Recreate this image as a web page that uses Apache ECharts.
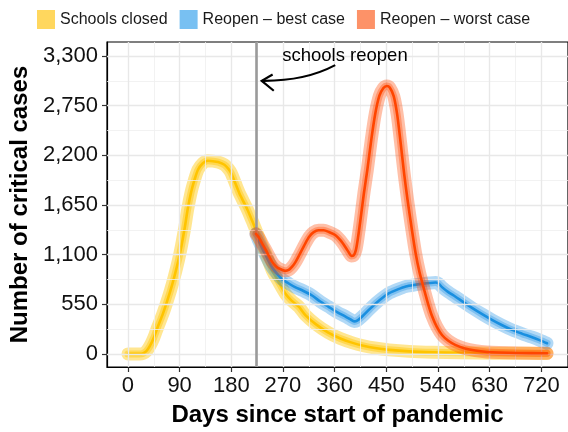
<!DOCTYPE html>
<html><head><meta charset="utf-8">
<script src="https://cdn.jsdelivr.net/npm/echarts@6/dist/echarts.min.js"></script>
<style>html,body{margin:0;padding:0;background:#fff}#c{width:568px;height:432px}</style>
</head><body><div id="c"></div>
<script>
// ---- data ----
const seriesNames = ['Schools closed', 'Reopen – best case', 'Reopen – worst case'];

const closedDays = [0, 10, 20, 26, 32, 38, 45, 52, 60, 67, 74, 81, 88, 93, 99, 104, 110, 116, 122, 130, 139, 148, 157, 168, 175, 180, 187, 194, 201, 208, 216, 223, 231, 240, 251, 263, 275, 285, 298, 309, 327, 349, 370, 390, 410, 430, 455, 490, 530, 580, 640, 700, 730];
const closedVals = [0, 0, 0, 5, 30, 85, 180, 300, 430, 560, 700, 860, 1040, 1190, 1400, 1600, 1790, 1930, 2040, 2110, 2140, 2135, 2125, 2095, 2050, 2000, 1890, 1780, 1690, 1600, 1480, 1370, 1240, 1110, 930, 790, 660, 590, 520, 430, 330, 235, 170, 125, 90, 65, 45, 28, 18, 12, 8, 6, 5];

const bestDays = [223, 228, 240, 251, 258, 268, 280, 291, 305, 320, 335, 349, 365, 379, 387, 394, 400, 408, 420, 432, 443, 455, 470, 484, 500, 513, 525, 536, 541, 547, 558, 570, 585, 600, 617, 634, 651, 669, 686, 704, 718, 730];
const bestVals = [1330, 1250, 1090, 960, 900, 830, 780, 740, 700, 650, 580, 524, 460, 414, 385, 360, 372, 414, 490, 562, 620, 673, 715, 747, 765, 776, 785, 791, 780, 740, 685, 636, 570, 507, 440, 377, 320, 266, 225, 185, 150, 118];

const worstDays = [223, 228, 234, 240, 251, 258, 265, 274, 280, 286, 292, 298, 309, 316, 323, 332, 341, 350, 361, 370, 378, 385, 389, 393, 397, 401, 405, 411, 417, 424, 431, 438, 445, 451, 456, 463, 469, 475, 481, 487, 494, 501, 508, 516, 523, 530, 538, 547, 558, 570, 587, 605, 625, 646, 680, 730];
const worstVals = [1330, 1290, 1220, 1151, 1022, 968, 940, 920, 930, 966, 1020, 1090, 1225, 1300, 1347, 1370, 1370, 1350, 1317, 1260, 1190, 1120, 1085, 1090, 1150, 1300, 1486, 1780, 2040, 2380, 2668, 2860, 2945, 2968, 2950, 2853, 2650, 2336, 2000, 1708, 1400, 1117, 900, 710, 550, 414, 300, 210, 145, 100, 60, 37, 22, 15, 10, 7];

const xTicks = [0, 90, 180, 270, 360, 450, 540, 630, 720];
const xMinor = [45, 135, 225, 315, 405, 495, 585, 675];
const yTicks = [0, 550, 1100, 1650, 2200, 2750, 3300];
const yMinor = [275, 825, 1375, 1925, 2475, 3025];
const yTickLabels = ['0', '550', '1,100', '1,650', '2,200', '2,750', '3,300'];

const reopenDay = 223;
const annotationText = 'schools reopen';
const annoTextAt = [378, 3305];
const arrowStart = [361, 3199];
const arrowCtrl = [308, 3020];
const arrowTip = [233, 3025];
const arrowArm1 = [252, 3095];
const arrowArm2 = [254, 2915];

// ---- styles ----
const FONT = "'Liberation Sans', Arial, Helvetica, sans-serif";
const styles = [
  { band: 'rgba(255,196,0,0.43)', line: '#FFC400', key: '#FFD75E' },
  { band: 'rgba(30,145,228,0.34)', line: '#1A8FE0', key: '#78C0F2' },
  { band: 'rgba(255,69,0,0.34)', line: '#FF4500', key: '#FD9268' }
];
const sets = [[closedDays, closedVals], [bestDays, bestVals], [worstDays, worstVals]];
function zip(d, v) { return d.map((x, i) => [x, v[i]]); }

const series = [];
const gl = (v, axis, w, c) => ({ [axis]: v, lineStyle: { width: w, color: c, type: 'solid' } });
series.push({
  type: 'line', data: [], silent: true, z: 1,
  markLine: {
    silent: true, symbol: ['none', 'none'], label: { show: false }, animation: false,
    data: [].concat(
      yMinor.map(v => gl(v, 'yAxis', 0.8, '#EFEFEF')),
      xMinor.map(v => gl(v, 'xAxis', 0.8, '#EFEFEF')),
      yTicks.map(v => gl(v, 'yAxis', 1.4, '#E8E8E8')),
      xTicks.map(v => gl(v, 'xAxis', 1.4, '#E8E8E8'))
    )
  }
});
series.push({
  type: 'line', data: [], silent: true, z: 2,
  markLine: {
    silent: true, symbol: ['none', 'none'], label: { show: false }, animation: false,
    data: [{ xAxis: reopenDay, lineStyle: { width: 2.6, color: '#9A9A9A', type: 'solid' } }]
  }
});

sets.forEach((s, i) => {
  const data = zip(s[0], s[1]);
  const st = styles[i];
  const common = {
    type: 'line', name: seriesNames[i], data, showSymbol: false, symbol: 'none',
    smooth: 0.25, silent: true,
    itemStyle: { color: st.key }, z: 3 + i
  };
  series.push(Object.assign({}, common, { lineStyle: { color: st.band, width: 13, cap: 'round', join: 'round' } }));
  series.push(Object.assign({}, common, { lineStyle: { color: st.band, width: 7, cap: 'round', join: 'round' } }));
  series.push(Object.assign({}, common, { lineStyle: { color: st.line, width: 2.6, cap: 'round', join: 'round' } }));
});

const chart = echarts.init(document.getElementById('c'), null, { renderer: 'canvas' });
const option = {
  animation: false,
  backgroundColor: '#fff',
  legend: {
    data: seriesNames,
    left: 32, top: 5,
    icon: 'rect', itemWidth: 18, itemHeight: 19, itemGap: 12,
    textStyle: { fontFamily: FONT, fontSize: 16, color: '#1a1a1a' },
    selectedMode: false
  },
  grid: {
    left: 107, top: 42, right: -3, bottom: 65,
    show: true, borderColor: '#000', borderWidth: 1.2, containLabel: false
  },
  xAxis: {
    type: 'value', min: -36.5, max: 766.5,
    name: 'Days since start of pandemic', nameLocation: 'middle', nameGap: 36,
    nameTextStyle: { fontFamily: FONT, fontSize: 24, fontWeight: 'bold', color: '#000' },
    axisLine: { show: true, onZero: false, lineStyle: { color: '#000', width: 1.2 } },
    axisTick: { show: true, length: 5, lineStyle: { color: '#333', width: 1.2 }, customValues: xTicks },
    axisLabel: { fontFamily: FONT, fontSize: 22, color: '#111', margin: 8, customValues: xTicks },
    splitLine: { show: false }
  },
  yAxis: {
    type: 'value', min: -145, max: 3455,
    name: 'Number of critical cases', nameLocation: 'middle', nameGap: 68, nameRotate: 90,
    nameTextStyle: { fontFamily: FONT, fontSize: 24, fontWeight: 'bold', color: '#000' },
    axisLine: { show: true, onZero: false, lineStyle: { color: '#000', width: 1.2 } },
    axisTick: { show: true, length: 5, lineStyle: { color: '#333', width: 1.2 }, customValues: yTicks },
    axisLabel: {
      fontFamily: FONT, fontSize: 22, color: '#111', margin: 9, customValues: yTicks,
      formatter: v => { const k = yTicks.indexOf(Math.round(v)); return k >= 0 ? yTickLabels[k] : ''; }
    },
    splitLine: { show: false }
  },
  series
};
chart.setOption(option);

// annotation placed through the chart's own scales
const P = p => chart.convertToPixel({ gridIndex: 0 }, p);
const t = P(annoTextAt), a0 = P(arrowStart), ac = P(arrowCtrl), a1 = P(arrowTip), h1 = P(arrowArm1), h2 = P(arrowArm2);
chart.setOption({
  graphic: [
    { type: 'text', z: 100, style: { text: annotationText, x: t[0], y: t[1], align: 'center', verticalAlign: 'middle', font: '18.5px ' + FONT, fill: '#000' } },
    { type: 'bezierCurve', z: 100, shape: { x1: a0[0], y1: a0[1], cpx1: ac[0], cpy1: ac[1], x2: a1[0], y2: a1[1] }, style: { stroke: '#000', lineWidth: 2.2, fill: null } },
    { type: 'polyline', z: 100, shape: { points: [h1, a1, h2] }, style: { stroke: '#000', lineWidth: 2.2, fill: null } }
  ]
});
</script></body></html>
